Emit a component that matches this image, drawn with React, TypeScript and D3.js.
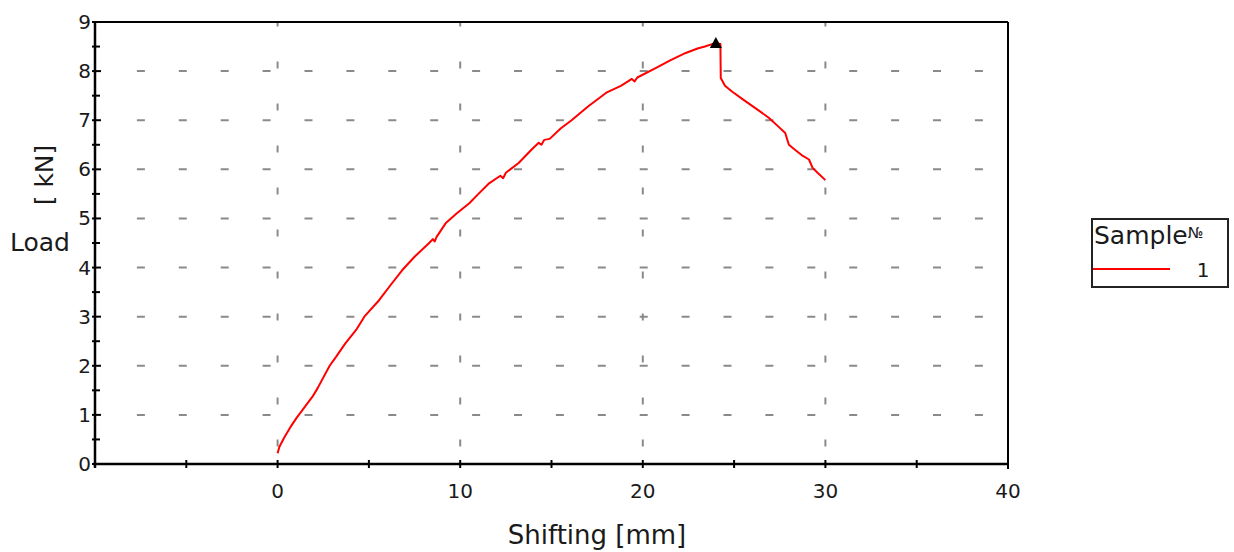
import React from "react";
import * as d3 from "d3";

// ---- data ----
const shiftMm: number[] = [
  0, 0.1, 0.38, 0.7, 1.04, 1.5, 1.91, 2.2, 2.85, 3.2, 3.7, 4.3, 4.75, 5.57, 6.2, 6.83,
  7.5, 8.3, 8.5, 8.6, 8.7, 9.2, 9.8, 10.5, 11.0, 11.6, 12.2, 12.35, 12.5, 13.2, 13.9,
  14.3, 14.45, 14.6, 14.9, 15.5, 16.1, 17.0, 18.0, 18.8, 19.4, 19.55, 19.7, 20.7, 21.5,
  22.35, 23.0, 23.4, 23.8, 24.0, 24.25, 24.27, 24.5, 24.9, 25.5, 26.3, 26.9, 27.4, 27.8,
  28.0, 28.4, 28.7, 29.1, 29.3, 29.6, 30.0,
];
const loadKN: number[] = [
  0.22, 0.35, 0.55, 0.75, 0.94, 1.17, 1.37, 1.55, 2.0, 2.18, 2.45, 2.73, 3.0, 3.34, 3.65, 3.95,
  4.22, 4.5, 4.58, 4.53, 4.62, 4.9, 5.1, 5.31, 5.5, 5.72, 5.87, 5.82, 5.93, 6.13, 6.4,
  6.54, 6.5, 6.6, 6.62, 6.83, 7.0, 7.28, 7.56, 7.7, 7.84, 7.79, 7.87, 8.06, 8.22,
  8.37, 8.46, 8.5, 8.55, 8.57, 8.55, 7.86, 7.7, 7.58, 7.42, 7.21, 7.05, 6.88, 6.74,
  6.5, 6.38, 6.29, 6.2, 6.03, 5.92, 5.78,
];
const peakPoint: [number, number] = [24.0, 8.57];
const xTickLabels: number[] = [0, 10, 20, 30, 40];
const xMinorTicks: number[] = [-5, 0, 5, 10, 15, 20, 25, 30, 35];
const yTickLabels: number[] = [0, 1, 2, 3, 4, 5, 6, 7, 8, 9];
const yGridValues: number[] = [1, 2, 3, 4, 5, 6, 7, 8];
const xGridValues: number[] = [0, 10, 20, 30];
const seriesNames: string[] = ["1"];

const FONT = "'DejaVu Sans', Verdana, sans-serif";

export default function App() {
  const left = 95, right = 1008, top = 22, bottom = 464;
  const x = d3.scaleLinear().domain([-10, 40]).range([left, right]);
  const y = d3.scaleLinear().domain([0, 9]).range([bottom, top]);
  const pts: [number, number][] = shiftMm.map((v, i) => [v, loadKN[i]]);
  const line = d3.line<[number, number]>().x((d) => x(d[0])).y((d) => y(d[1]));
  const yMinor = d3.range(0, 9.01, 0.5);
  const px = x(peakPoint[0]);
  const py = y(peakPoint[1]);

  return (
    <svg width={1234} height={552} style={{ position: "absolute", left: 0, top: 0, background: "#fff" }}>
      <rect width={1234} height={552} fill="#fff" />
      {/* horizontal grid */}
      {yGridValues.map((v) => (
        <line key={"hg" + v} x1={left + 41.9} x2={right - 4} y1={y(v)} y2={y(v)}
          stroke="#8a8a8a" strokeWidth={2} strokeDasharray="8 33.9" />
      ))}
      {/* vertical grid */}
      {xGridValues.map((v) => (
        <line key={"vg" + v} x1={x(v)} x2={x(v)} y1={bottom - 17.5} y2={top}
          stroke="#8a8a8a" strokeWidth={2} strokeDasharray="7 35" />
      ))}
      {/* frame */}
      <line x1={left} x2={right} y1={top} y2={top} stroke="#000" strokeWidth={2} />
      <line x1={right} x2={right} y1={top} y2={bottom + 5} stroke="#000" strokeWidth={2} />
      <line x1={left} x2={left} y1={top} y2={bottom + 4} stroke="#000" strokeWidth={2.5} />
      <line x1={left - 2} x2={right} y1={bottom} y2={bottom} stroke="#000" strokeWidth={2.5} />
      {/* y ticks */}
      {yMinor.map((v) => (
        <line key={"yt" + v} x1={left - 3} x2={left + (Number.isInteger(v) ? 6 : 5)} y1={y(v)} y2={y(v)}
          stroke="#000" strokeWidth={2} />
      ))}
      {/* x ticks */}
      {xMinorTicks.map((v) => (
        <line key={"xt" + v} x1={x(v)} x2={x(v)} y1={bottom - 4} y2={bottom + 4} stroke="#000" strokeWidth={2} />
      ))}
      {/* y labels */}
      {yTickLabels.map((v) => (
        <text key={"yl" + v} x={left - 4} y={y(v) + 7} textAnchor="end" fontFamily={FONT} fontSize={20} fill="#1a1a1a">
          {v}
        </text>
      ))}
      {/* x labels */}
      {xTickLabels.map((v) => (
        <text key={"xl" + v} x={x(v)} y={498} textAnchor="middle" fontFamily={FONT} fontSize={20} fill="#1a1a1a">
          {v}
        </text>
      ))}
      {/* axis titles */}
      <text x={597} y={544} textAnchor="middle" fontFamily={FONT} fontSize={26} fill="#1a1a1a">
        Shifting [mm]
      </text>
      <text x={10} y={251} fontFamily={FONT} fontSize={25} fill="#1a1a1a">Load</text>
      <text transform="translate(53,175) rotate(-90)" textAnchor="middle" fontFamily={FONT} fontSize={25} fill="#1a1a1a">
        [ kN]
      </text>
      {/* series */}
      <path d={line(pts) || ""} fill="none" stroke="#ff0000" strokeWidth={2} strokeLinejoin="round" />
      {/* peak marker */}
      <path d={`M${px},${py - 6} L${px + 6},${py + 5} L${px - 6},${py + 5} Z`} fill="#000" />
      {/* legend */}
      <rect x={1092} y={219} width={136} height={68} fill="#fff" stroke="#222" strokeWidth={2} />
      <text x={1094} y={244} fontFamily={FONT} fontSize={25} fill="#1a1a1a">
        Sample<tspan fontSize={15} dy={-6}>№</tspan>
      </text>
      {seriesNames.map((n, i) => (
        <g key={n}>
          <line x1={1093} x2={1170} y1={269 + i * 24} y2={269 + i * 24} stroke="#ff0000" strokeWidth={2} />
          <text x={1203} y={277 + i * 24} textAnchor="middle" fontFamily={FONT} fontSize={20} fill="#1a1a1a">{n}</text>
        </g>
      ))}
    </svg>
  );
}
